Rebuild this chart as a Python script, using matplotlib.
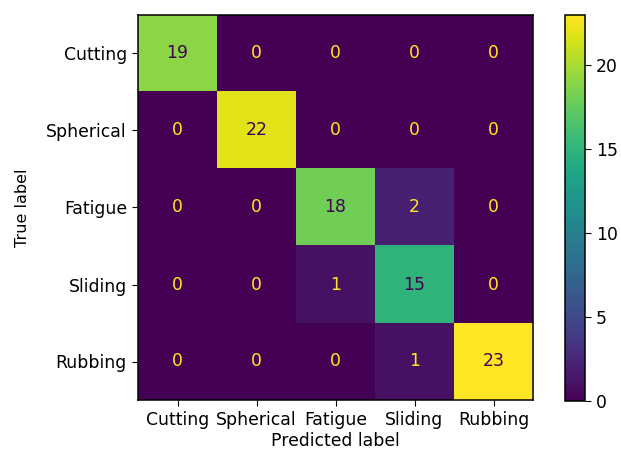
import numpy as np
import matplotlib
matplotlib.use("Agg")
import matplotlib.pyplot as plt

labels = ["Cutting", "Spherical", "Fatigue", "Sliding", "Rubbing"]
cm = np.array([
    [19, 0, 0, 0, 0],
    [0, 22, 0, 0, 0],
    [0, 0, 18, 2, 0],
    [0, 0, 1, 15, 0],
    [0, 0, 0, 1, 23],
])

plt.rcParams["font.size"] = 12.4
plt.rcParams["xtick.major.size"] = 4.5
plt.rcParams["ytick.major.size"] = 4.5
plt.rcParams["axes.linewidth"] = 1.1

fig = plt.figure(figsize=(6.21, 4.54), dpi=100)
ax = fig.add_axes([138 / 621, 1 - 400 / 454, 395 / 621, 385 / 454])
cax = fig.add_axes([565 / 621, 1 - 401 / 454, 20 / 621, 386 / 454])

cmap = plt.get_cmap("viridis")
im = ax.imshow(cm, cmap=cmap, aspect="auto", interpolation="nearest")

thresh = (cm.max() + cm.min()) / 2.0
for i in range(cm.shape[0]):
    for j in range(cm.shape[1]):
        color = cmap(0) if cm[i, j] > thresh else cmap(1.0)
        ax.text(j, i, str(cm[i, j]), ha="center", va="center", color=color)

ax.set_xticks(range(len(labels)))
ax.set_xticklabels(labels)
ax.set_yticks(range(len(labels)))
ax.set_yticklabels(labels)
ax.set_xlabel("Predicted label", labelpad=2)
ax.set_ylabel("True label", labelpad=12, fontsize=11.5)

cb = fig.colorbar(im, cax=cax)
cb.set_ticks([0, 5, 10, 15, 20])

fig.savefig("out.png", dpi=100)
